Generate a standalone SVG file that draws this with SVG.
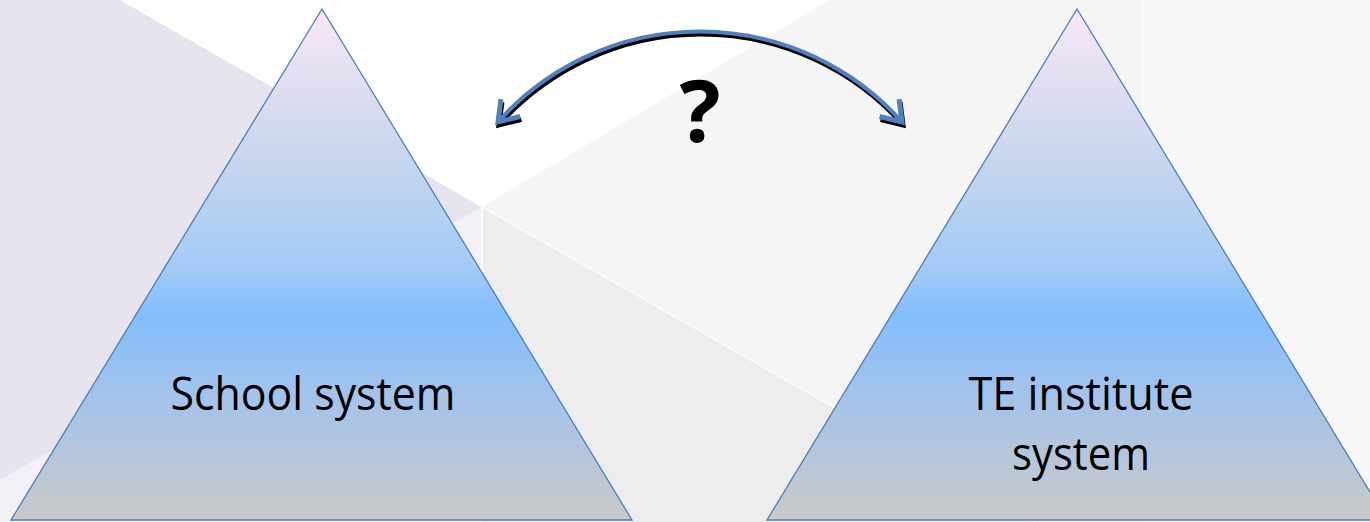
<svg xmlns="http://www.w3.org/2000/svg" width="1370" height="522" viewBox="0 0 1370 522">
  <defs>
    <linearGradient id="triFill" x1="0" y1="0" x2="0" y2="1">
      <stop offset="0" stop-color="#f8e8f8"/>
      <stop offset="0.15" stop-color="#e0def0"/>
      <stop offset="0.35" stop-color="#bed3ee"/>
      <stop offset="0.5" stop-color="#a5cbf5"/>
      <stop offset="0.6" stop-color="#82befd"/>
      <stop offset="0.75" stop-color="#a2c3ec"/>
      <stop offset="1" stop-color="#c9c9c9"/>
    </linearGradient>
    <marker id="headBlue" markerUnits="userSpaceOnUse" markerWidth="40" markerHeight="40" viewBox="-30 -20 40 40" refX="0" refY="0" orient="auto-start-reverse">
      <path d="M -19 -13 L 0 0 L -19 13" fill="none" stroke="#4f81bd" stroke-width="5" stroke-linejoin="miter"/>
    </marker>
    <marker id="headBlack" markerUnits="userSpaceOnUse" markerWidth="40" markerHeight="40" viewBox="-30 -20 40 40" refX="0" refY="0" orient="auto-start-reverse">
      <path d="M -19 -13 L 0 0 L -19 13" fill="none" stroke="#000000" stroke-width="5" stroke-linejoin="miter"/>
    </marker>
  </defs>
  <style>
    .tri { fill: url(#triFill); stroke: #4a7ebb; stroke-width: 1.3; }
    .label { font-family: "Open Sans", "Liberation Sans", sans-serif; font-size: 46px; fill: #000000; text-anchor: middle; }
    .q { font-family: "Open Sans", "Liberation Sans", sans-serif; font-size: 86px; font-weight: bold; fill: #000000; text-anchor: middle; }
    .arcBlue { fill: none; stroke: #4f81bd; stroke-width: 4; }
    .arcShadow { fill: none; stroke: #000000; stroke-width: 4; }
  </style>

  <!-- background -->
  <g id="background">
    <rect x="0" y="0" width="1370" height="522" fill="#f5f5f5"/>
    <rect x="1143" y="0" width="227" height="522" fill="#f7f7f7"/>
    <line x1="1143" y1="0" x2="1143" y2="440" stroke="#ffffff" stroke-width="1.2" opacity="0.8"/>
    <polygon points="0,0 120,0 482,207 0,480" fill="#e8e4ef"/>
    <polygon points="120,0 830,0 482,207" fill="#ffffff"/>
    <polygon points="0,480 482,207 482,522 0,522" fill="#f3f0f6"/>
    <polygon points="482,207 1035,522 482,522" fill="#ededed"/>
    <line x1="482" y1="207" x2="1035" y2="522" stroke="#ffffff" stroke-width="1.5" opacity="0.8"/>
    <line x1="482" y1="207" x2="482" y2="330" stroke="#ffffff" stroke-width="2" opacity="0.7"/>
  </g>

  <!-- nodes -->
  <g id="school-system">
    <polygon class="tri" points="322,9 11,520 632,520"/>
    <text class="label" x="313" y="410" textLength="285" lengthAdjust="spacingAndGlyphs">School system</text>
  </g>
  <g id="te-institute-system">
    <polygon class="tri" points="1077,9 767,520 1387,520"/>
    <text class="label" x="1081" y="410" textLength="225" lengthAdjust="spacingAndGlyphs">TE institute</text>
    <text class="label" x="1081" y="470" textLength="138" lengthAdjust="spacingAndGlyphs">system</text>
  </g>

  <!-- connectors -->
  <g id="connectors">
    <path class="arcShadow" d="M 499 125 A 270.7 270.7 0 0 1 903 125" marker-start="url(#headBlack)" marker-end="url(#headBlack)"/>
    <path class="arcBlue" d="M 498 122 A 270.7 270.7 0 0 1 902 122" marker-start="url(#headBlue)" marker-end="url(#headBlue)"/>
  </g>

  <g id="question-label">
    <text class="q" x="700" y="142">?</text>
  </g>
</svg>
